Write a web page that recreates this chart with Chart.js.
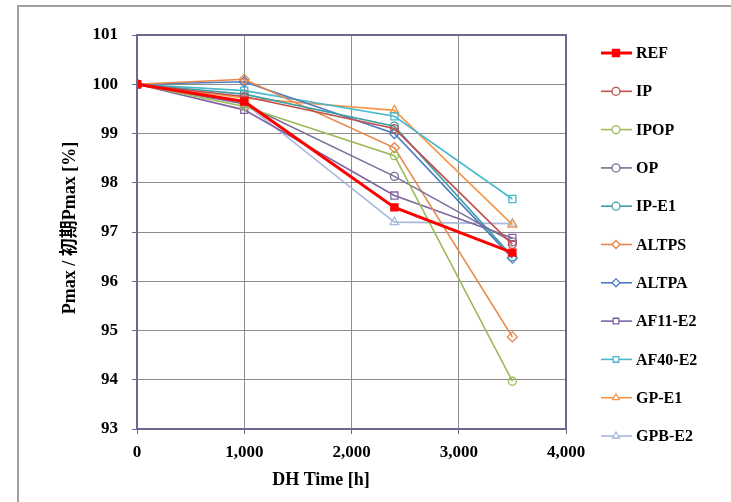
<!DOCTYPE html>
<html>
<head>
<meta charset="utf-8">
<script src="https://cdn.jsdelivr.net/npm/chart.js@4"></script>
<style>
  body { margin: 0; background: #fff; }
  #wrap { position: relative; width: 731px; height: 502px; }
  #frame { position: absolute; left: 17px; top: 5px; width: 740px; height: 520px; border: 2px solid #a0a0a0; box-sizing: border-box; }
  canvas { position: absolute; left: 0; top: 0; }
</style>
</head>
<body>
<div id="wrap">
  <div id="frame"></div>
  <canvas id="chart" width="731" height="502"></canvas>
</div>
<script>
// DH hours
const hours = [0, 1000, 2400, 3500];

// Pmax / initial Pmax [%] per sample
const REF    = [100, 99.65, 97.50, 96.58];
const IP     = [100, 99.75, 99.10, 96.75];
const IPOP   = [100, 99.55, 98.55, 93.97];
const OP     = [100, 99.60, 98.13, 96.80];
const IP_E1  = [100, 99.80, 99.15, 96.50];
const ALTPS  = [100, 100.10, 98.71, 94.87];
const ALTPA  = [100, 100.05, 99.00, 96.47];
const AF11   = [100, 99.48, 97.74, 96.88];
const AF40   = [100, 99.87, 99.35, 97.67];
const GP_E1  = [100, 99.72, 99.47, 97.15];
const GPB_E2 = [100, 99.62, 97.20, 97.17];

const names  = ['REF','IP','IPOP','OP','IP-E1','ALTPS','ALTPA','AF11-E2','AF40-E2','GP-E1','GPB-E2'];
const values = [REF, IP, IPOP, OP, IP_E1, ALTPS, ALTPA, AF11, AF40, GP_E1, GPB_E2];
const colors = ['#ff0000','#c0504d','#9bbb59','#7a6f98','#3e9fa8','#e8884a','#4f7bc0','#8064a2','#4bb8cc','#f79646','#a7b8dc'];
const shapes = ['rect','circle','circle','circle','circle','rectRot','rectRot','rect','rect','triangle','triangle'];

const serif = '"Liberation Serif", "Times New Roman", "Noto Sans CJK JP", serif';

const datasets = names.map((n, i) => ({
  label: n,
  data: hours.map((h, j) => ({x: h, y: values[i][j]})),
  borderColor: colors[i],
  backgroundColor: i === 0 ? colors[i] : '#ffffff',
  borderWidth: i === 0 ? 3 : 1.6,
  pointStyle: shapes[i],
  pointRadius: i === 0 ? 5 : (shapes[i] === 'circle' ? 4 : 5),
  pointBorderWidth: 1.3,
  pointBackgroundColor: i === 0 ? colors[i] : 'rgba(255,255,255,0)',
  order: i === 0 ? 0 : 1
}));

const sidePlugin = {
  id: 'side',
  afterDraw(chart) {
    const ctx = chart.ctx;
    ctx.save();
    // plot border
    const a = chart.chartArea;
    ctx.strokeStyle = '#6c6890';
    ctx.lineWidth = 2;
    ctx.strokeRect(a.left, a.top, a.right - a.left, a.bottom - a.top);
    // axis titles
    ctx.fillStyle = '#000';
    ctx.font = 'bold 18px ' + serif;
    ctx.textAlign = 'center';
    ctx.textBaseline = 'middle';
    ctx.fillText('DH Time [h]', 321, 480);
    ctx.translate(70, 228);
    ctx.rotate(-Math.PI / 2);
    ctx.fillText('Pmax / 初期Pmax [%]', 0, 0);
    ctx.restore();

    // legend
    ctx.save();
    chart.data.datasets.forEach((ds, i) => {
      const y = 53 + i * 38.3;
      ctx.strokeStyle = ds.borderColor;
      ctx.lineWidth = ds.borderWidth;
      ctx.beginPath();
      ctx.moveTo(601, y);
      ctx.lineTo(632, y);
      ctx.stroke();
      ctx.fillStyle = ds.backgroundColor;
      ctx.lineWidth = 1.3;
      Chart.helpers.drawPoint(ctx, {pointStyle: ds.pointStyle, radius: i === 0 ? 5 : 4, rotation: 0, borderWidth: 1.3}, 616, y);
      ctx.fillStyle = '#000';
      ctx.font = 'bold 16px ' + serif;
      ctx.textAlign = 'left';
      ctx.textBaseline = 'middle';
      ctx.fillText(ds.label, 636, y + 1);
    });
    ctx.restore();
  }
};

new Chart(document.getElementById('chart'), {
  type: 'line',
  data: { datasets },
  plugins: [sidePlugin],
  options: {
    responsive: false,
    animation: false,
    layout: { padding: { left: 0, top: 35, right: 165, bottom: 0 } },
    plugins: { legend: { display: false }, tooltip: { enabled: false } },
    scales: {
      x: {
        type: 'linear',
        min: 0, max: 4000,
        afterFit(s) { s.height = 73; },
        ticks: {
          stepSize: 1000,
          padding: 8,
          color: '#000',
          font: { family: serif, size: 17, weight: 'bold' },
          callback: v => v.toLocaleString('en-US')
        },
        grid: { color: '#8e8e8e', lineWidth: 1, tickLength: 5, tickColor: '#6c6890' },
        border: { color: '#6c6890', width: 2 }
      },
      y: {
        min: 93, max: 101,
        afterFit(s) { s.width = 137; },
        ticks: {
          stepSize: 1,
          padding: 14,
          color: '#000',
          font: { family: serif, size: 17, weight: 'bold' }
        },
        grid: { color: '#8e8e8e', lineWidth: 1, tickLength: 5, tickColor: '#6c6890' },
        border: { color: '#6c6890', width: 2 }
      }
    }
  }
});
</script>
</body>
</html>
